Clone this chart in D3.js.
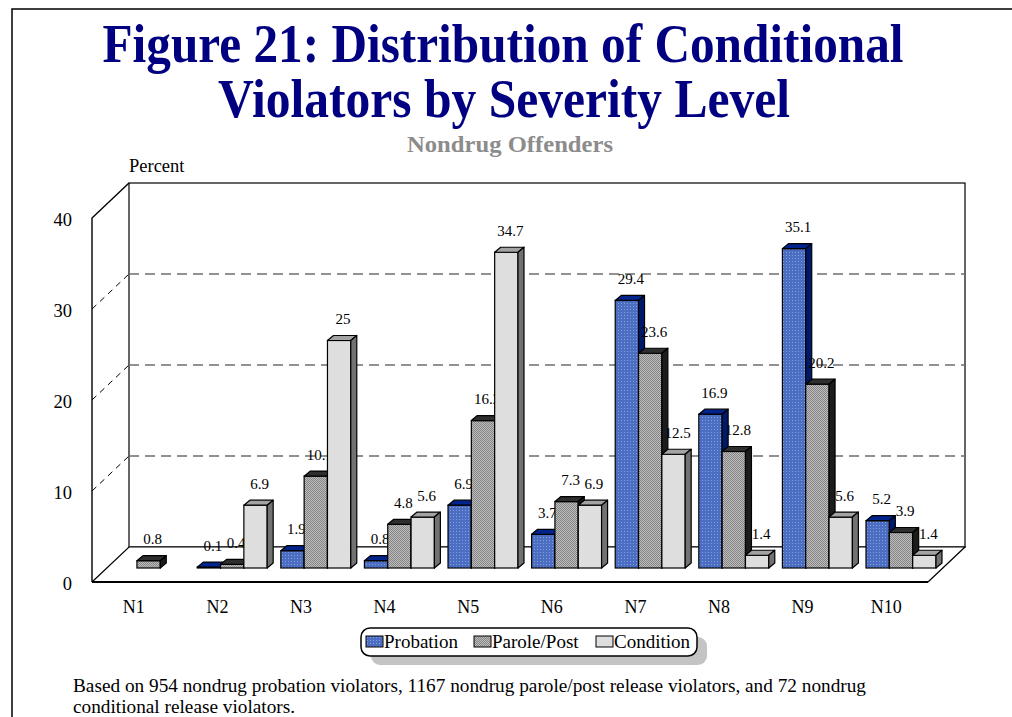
<!DOCTYPE html>
<html>
<head>
<meta charset="utf-8">
<script src="https://cdn.jsdelivr.net/npm/d3@7"></script>
<style>
  body { margin: 0; background: #fff; }
  text { font-family: "Liberation Serif", "Times New Roman", serif; }
</style>
</head>
<body>
<svg id="chart"></svg>
<script>
const categories = ['N1', 'N2', 'N3', 'N4', 'N5', 'N6', 'N7', 'N8', 'N9', 'N10'];
const seriesNames = ['Probation', 'Parole/Post', 'Condition'];
const probation = [null, 0.1, 1.9, 0.8, 6.9, 3.7, 29.4, 16.9, 35.1, 5.2];
const parole = [0.8, 0.4, 10.1, 4.8, 16.2, 7.3, 23.6, 12.8, 20.2, 3.9];
const condition = [null, 6.9, 25, 5.6, 34.7, 6.9, 12.5, 1.4, 5.6, 1.4];
const yTicks = [0, 10, 20, 30, 40];
const gridTicks = [10, 20, 30];

const seriesValues = [probation, parole, condition];

const styles = [
  { front: 'url(#pat-prob)', top: '#00238c', side: '#001a6b' },
  { front: 'url(#pat-parole)', top: '#2e2e2e', side: '#1c1c1c' },
  { front: '#dedede', top: '#a3a3a3', side: '#727272' },
];

const width = 1012;
const height = 717;

const svg = d3.select('#chart').attr('width', width).attr('height', height);

// patterns for the bar faces
const defs = svg.append('defs');
const pProb = defs.append('pattern').attr('id', 'pat-prob')
  .attr('width', 3).attr('height', 3).attr('patternUnits', 'userSpaceOnUse');
pProb.append('rect').attr('width', 3).attr('height', 3).attr('fill', '#4b6ec2');
pProb.append('rect').attr('width', 1).attr('height', 1).attr('fill', '#86a0de');
const pPar = defs.append('pattern').attr('id', 'pat-parole')
  .attr('width', 2).attr('height', 2).attr('patternUnits', 'userSpaceOnUse');
pPar.append('rect').attr('width', 2).attr('height', 2).attr('fill', '#bdbdbd');
pPar.append('rect').attr('width', 1).attr('height', 1).attr('fill', '#858585');
pPar.append('rect').attr('x', 1).attr('y', 1).attr('width', 1).attr('height', 1).attr('fill', '#858585');

// page border
svg.append('path').attr('d', 'M12,717 L12,9 L1012,9')
  .attr('fill', 'none').attr('stroke', '#000').attr('stroke-width', 1.5);

// titles
const squeeze = (sel, len) => sel.attr('textLength', len).attr('lengthAdjust', 'spacingAndGlyphs');

squeeze(svg.append('text').attr('x', 503).attr('y', 62).attr('text-anchor', 'middle')
  .attr('font-size', 54).attr('font-weight', 'bold').attr('fill', '#000080')
  .text('Figure 21: Distribution of Conditional'), 801);
squeeze(svg.append('text').attr('x', 504).attr('y', 117).attr('text-anchor', 'middle')
  .attr('font-size', 54).attr('font-weight', 'bold').attr('fill', '#000080')
  .text('Violators by Severity Level'), 572);
squeeze(svg.append('text').attr('x', 510).attr('y', 152).attr('text-anchor', 'middle')
  .attr('font-size', 23).attr('font-weight', 'bold').attr('fill', '#8c8c8c')
  .text('Nondrug Offenders'), 206);

svg.append('text').attr('x', 129).attr('y', 172).attr('font-size', 18.5)
  .text('Percent');

// 3D frame
const frontLeft = 92;
const frontRight = 928;
const base = 582;
const depth = { dx: 37, dy: -35 };
const barFrac = 0.4;
const barD = { dx: 6, dy: -5 };

const yFront = d3.scaleLinear().domain([0, 40]).range([base, base - 364]);
const yBack = v => yFront(v) + depth.dy;

const x = d3.scaleBand().domain(categories)
  .range([frontLeft, frontRight]).paddingInner(0.163).paddingOuter(0.0815);
const xs = d3.scaleBand().domain(seriesNames).range([0, x.bandwidth()]);

// back wall
svg.append('rect')
  .attr('x', frontLeft + depth.dx).attr('y', yBack(40))
  .attr('width', frontRight - frontLeft).attr('height', yFront(0) - yFront(40))
  .attr('fill', '#fff').attr('stroke', '#000').attr('stroke-width', 1.2);

svg.append('g').selectAll('line').data(gridTicks).enter().append('line')
  .attr('x1', frontLeft + depth.dx).attr('x2', frontRight + depth.dx)
  .attr('y1', d => yBack(d)).attr('y2', d => yBack(d))
  .attr('stroke', '#6e6e6e').attr('stroke-width', 1.6).attr('stroke-dasharray', '10,6');

// left wall
svg.append('g').selectAll('line').data(gridTicks).enter().append('line')
  .attr('x1', frontLeft).attr('x2', frontLeft + depth.dx)
  .attr('y1', d => yFront(d)).attr('y2', d => yBack(d))
  .attr('stroke', '#000').attr('stroke-width', 1).attr('stroke-dasharray', '6,5');
svg.append('path')
  .attr('d', `M${frontLeft},${yFront(0)} L${frontLeft},${yFront(40)} L${frontLeft + depth.dx},${yBack(40)}`)
  .attr('fill', 'none').attr('stroke', '#000').attr('stroke-width', 1.4);

// floor
svg.append('path')
  .attr('d', `M${frontLeft},${base} L${frontLeft + depth.dx},${base + depth.dy} L${frontRight + depth.dx},${base + depth.dy} L${frontRight},${base}`)
  .attr('fill', '#fff').attr('stroke', '#000').attr('stroke-width', 1.2);
svg.append('line')
  .attr('x1', frontLeft).attr('x2', frontRight).attr('y1', base).attr('y2', base)
  .attr('stroke', '#000').attr('stroke-width', 2.2);

// axes
const yAxis = svg.append('g').attr('transform', `translate(${frontLeft},0)`)
  .call(d3.axisLeft(yFront).tickValues(yTicks).tickSize(0).tickPadding(20).tickFormat(d3.format('d')));
yAxis.select('.domain').remove();
yAxis.selectAll('text').attr('font-size', 18.5).attr('fill', '#000').attr('dy', '0.42em');

const xAxis = svg.append('g').attr('transform', `translate(0,${base})`)
  .call(d3.axisBottom(x).tickSize(0).tickPadding(18));
xAxis.select('.domain').remove();
xAxis.selectAll('text').attr('font-size', 18).attr('fill', '#000');

// bars
const shiftX = depth.dx * barFrac;
const shiftY = depth.dy * barFrac;
const barBase = base + shiftY;

const barsG = svg.append('g');

seriesNames.forEach((name, si) => {
  const st = styles[si];
  const items = categories
    .map((c, i) => ({ cat: c, value: seriesValues[si][i] }))
    .filter(d => d.value !== null);

  items.forEach(d => {
    const x0 = x(d.cat) + xs(name) + shiftX;
    const w = xs.bandwidth();
    const yTop = yFront(d.value) + shiftY;
    const g = barsG.append('g');
    g.append('rect')
      .attr('x', x0).attr('y', yTop).attr('width', w).attr('height', barBase - yTop)
      .attr('fill', st.front).attr('stroke', '#000').attr('stroke-width', 1.2);
    g.append('path')
      .attr('d', `M${x0},${yTop} L${x0 + barD.dx},${yTop + barD.dy} L${x0 + w + barD.dx},${yTop + barD.dy} L${x0 + w},${yTop} Z`)
      .attr('fill', st.top).attr('stroke', '#000').attr('stroke-width', 1.2).attr('stroke-linejoin', 'round');
    g.append('path')
      .attr('d', `M${x0 + w},${yTop} L${x0 + w + barD.dx},${yTop + barD.dy} L${x0 + w + barD.dx},${barBase + barD.dy} L${x0 + w},${barBase} Z`)
      .attr('fill', st.side).attr('stroke', '#000').attr('stroke-width', 1.2).attr('stroke-linejoin', 'round');
  });

  items.forEach(d => {
    const cx = x(d.cat) + xs(name) + shiftX + xs.bandwidth() / 2 + 4;
    const yTop = yFront(d.value) + shiftY;
    barsG.append('text')
      .attr('x', cx).attr('y', yTop - 16.5)
      .attr('text-anchor', 'middle').attr('font-size', 15).attr('fill', '#000')
      .text(d.value);
  });
});

// legend
const legend = svg.append('g').attr('transform', 'translate(361,628)');
legend.append('rect').attr('x', 10).attr('y', 9).attr('width', 336).attr('height', 28)
  .attr('rx', 9).attr('fill', '#c4c4c4');
legend.append('rect').attr('width', 336).attr('height', 28).attr('rx', 9)
  .attr('fill', '#fff').attr('stroke', '#000').attr('stroke-width', 1.5);
const legendX = [5, 113, 235];
seriesNames.forEach((name, i) => {
  legend.append('rect').attr('x', legendX[i]).attr('y', 8).attr('width', 17).attr('height', 11)
    .attr('fill', styles[i].front).attr('stroke', '#000').attr('stroke-width', 1);
  legend.append('text').attr('x', legendX[i] + 18).attr('y', 20).attr('font-size', 19)
    .text(name);
});

// footnote
const fn1 = svg.append('text').attr('x', 73).attr('y', 692).attr('font-size', 18)
  .text('Based on 954 nondrug probation violators, 1167 nondrug parole/post release violators, and 72 nondrug');
const fn2 = svg.append('text').attr('x', 73).attr('y', 713).attr('font-size', 18)
  .text('conditional release violators.');
const ratio = 793 / fn1.node().getComputedTextLength();
squeeze(fn1, 793);
squeeze(fn2, fn2.node().getComputedTextLength() * ratio);
</script>
</body>
</html>
